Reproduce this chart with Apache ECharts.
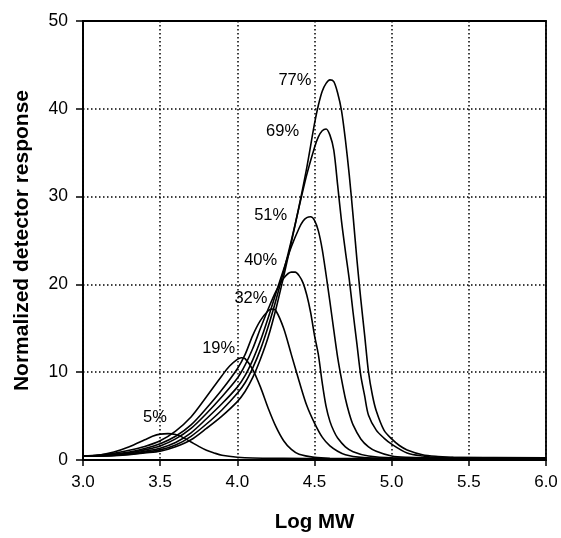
<!DOCTYPE html>
<html>
<head>
<meta charset="utf-8">
<script src="https://cdn.jsdelivr.net/npm/echarts@6/dist/echarts.min.js"></script>
<style>
html,body{margin:0;padding:0;background:#fff;}
#chart{width:561px;height:538px;}
</style>
</head>
<body>
<div id="chart"></div>
<script>
// Log MW vs normalized detector response, one array of [logMW, response] per conversion
const curve5 = [[3.0,0.45],[3.1,0.55],[3.2,0.9],[3.3,1.5],[3.4,2.3],[3.45,2.7],[3.5,2.95],[3.55,3.0],[3.6,2.9],[3.65,2.55],[3.7,2.05],[3.75,1.55],[3.8,1.1],[3.85,0.8],[3.9,0.55],[4.0,0.32],[4.1,0.22],[4.3,0.18],[4.6,0.15],[5.0,0.15],[6.0,0.15]];
const curve19 = [[3.0,0.45],[3.1,0.55],[3.2,0.75],[3.3,1.1],[3.4,1.55],[3.5,2.2],[3.6,3.3],[3.7,4.9],[3.8,7.2],[3.9,9.6],[3.95,10.7],[4.0,11.45],[4.025,11.65],[4.05,11.55],[4.1,10.3],[4.15,8.3],[4.2,5.9],[4.25,3.8],[4.3,2.2],[4.35,1.2],[4.4,0.65],[4.5,0.3],[4.6,0.2],[5.0,0.15],[6.0,0.15]];
const curve32 = [[3.0,0.45],[3.1,0.5],[3.2,0.65],[3.3,0.9],[3.4,1.3],[3.5,1.85],[3.6,2.7],[3.7,4.0],[3.8,5.9],[3.9,8.0],[4.0,10.4],[4.05,12.0],[4.1,14.2],[4.15,15.9],[4.2,17.0],[4.225,17.2],[4.25,17.0],[4.3,15.0],[4.35,12.0],[4.4,9.0],[4.45,6.2],[4.5,4.2],[4.55,2.6],[4.6,1.6],[4.65,1.0],[4.7,0.6],[4.8,0.3],[5.0,0.2],[6.0,0.2]];
const curve40 = [[3.0,0.45],[3.1,0.5],[3.2,0.6],[3.3,0.8],[3.4,1.15],[3.5,1.6],[3.6,2.4],[3.7,3.6],[3.8,5.3],[3.9,7.2],[4.0,9.3],[4.05,10.8],[4.1,12.7],[4.15,15.0],[4.2,17.2],[4.25,19.2],[4.3,20.7],[4.35,21.4],[4.375,21.4],[4.4,21.0],[4.425,20.2],[4.45,18.8],[4.475,16.8],[4.5,14.2],[4.525,12.0],[4.55,8.8],[4.575,6.1],[4.6,4.4],[4.625,3.3],[4.65,2.5],[4.7,1.5],[4.75,0.95],[4.85,0.45],[5.0,0.25],[6.0,0.2]];
const curve51 = [[3.0,0.45],[3.1,0.48],[3.2,0.55],[3.3,0.72],[3.4,1.0],[3.5,1.35],[3.6,2.0],[3.7,3.1],[3.8,4.7],[3.9,6.4],[4.0,8.3],[4.05,9.6],[4.1,11.4],[4.15,13.6],[4.2,16.2],[4.25,19.0],[4.3,21.7],[4.35,24.3],[4.4,26.4],[4.425,27.2],[4.45,27.6],[4.475,27.7],[4.5,27.3],[4.525,26.1],[4.55,24.0],[4.575,21.1],[4.6,18.0],[4.625,14.8],[4.65,11.7],[4.675,9.2],[4.7,7.0],[4.725,5.3],[4.75,4.0],[4.8,2.4],[4.85,1.5],[4.9,1.0],[5.0,0.45],[5.1,0.3],[5.3,0.22],[6.0,0.2]];
const curve69 = [[3.0,0.45],[3.1,0.47],[3.2,0.52],[3.3,0.65],[3.4,0.9],[3.5,1.15],[3.6,1.7],[3.7,2.7],[3.8,4.1],[3.9,5.7],[4.0,7.6],[4.05,8.8],[4.1,10.5],[4.15,12.6],[4.2,15.2],[4.25,18.2],[4.3,21.5],[4.35,25.0],[4.4,28.8],[4.45,32.5],[4.5,35.6],[4.525,36.8],[4.55,37.5],[4.575,37.7],[4.6,37.0],[4.625,35.3],[4.65,31.3],[4.675,27.2],[4.7,23.8],[4.725,20.6],[4.75,16.8],[4.775,13.2],[4.8,9.6],[4.825,7.3],[4.85,5.1],[4.9,3.4],[4.95,2.5],[5.0,1.8],[5.1,0.8],[5.2,0.45],[5.3,0.3],[6.0,0.25]];
const curve77 = [[3.0,0.45],[3.1,0.46],[3.2,0.5],[3.3,0.6],[3.4,0.8],[3.5,1.0],[3.6,1.5],[3.7,2.3],[3.8,3.6],[3.9,5.0],[4.0,6.65],[4.05,7.8],[4.1,9.4],[4.15,11.5],[4.2,14.0],[4.25,17.2],[4.3,20.9],[4.35,24.8],[4.4,28.9],[4.45,33.3],[4.5,38.3],[4.525,40.4],[4.55,42.0],[4.575,42.9],[4.6,43.3],[4.625,43.1],[4.65,41.8],[4.675,39.8],[4.7,36.5],[4.725,32.5],[4.75,27.8],[4.775,22.8],[4.8,18.3],[4.825,14.2],[4.85,10.0],[4.875,7.4],[4.9,5.6],[4.95,3.4],[5.0,2.4],[5.05,1.65],[5.1,1.15],[5.2,0.6],[5.3,0.4],[5.4,0.3],[6.0,0.25]];

const curves = [curve5, curve19, curve32, curve40, curve51, curve69, curve77];
const curveNames = ['5%', '19%', '32%', '40%', '51%', '69%', '77%'];
// label anchor points (in data units)
const labelMW = [3.466, 3.879, 4.088, 4.151, 4.216, 4.293, 4.373];
const labelResp = [4.85, 12.7, 18.4, 22.7, 27.8, 37.4, 43.2];

const xTicks = [3.0, 3.5, 4.0, 4.5, 5.0, 5.5, 6.0];
const yTicks = [0, 10, 20, 30, 40, 50];

const FONT = '"Liberation Sans", Arial, Helvetica, sans-serif';
const chart = echarts.init(document.getElementById('chart'), null, {renderer: 'canvas'});

const series = curves.map((c, i) => ({
  name: curveNames[i],
  type: 'line',
  data: c,
  smooth: 0.3,
  showSymbol: false,
  symbol: 'none',
  lineStyle: {color: '#000', width: 1.6},
  silent: true,
  z: 3
}));

series.push({
  type: 'scatter',
  symbolSize: 0,
  silent: true,
  itemStyle: {opacity: 1, color: '#000'},
  data: curveNames.map((n, i) => ({value: [labelMW[i], labelResp[i]], name: n})),
  label: {
    show: true,
    position: 'inside',
    formatter: p => p.name,
    color: '#000',
    opacity: 1,
    textBorderWidth: 0,
    fontFamily: FONT,
    fontSize: 16.5
  },
  z: 4
});

const gridLine = {show: true, lineStyle: {color: '#000', width: 1.5, type: [1.5, 2.5]}};

chart.setOption({
  animation: false,
  backgroundColor: '#fff',
  grid: {left: 83, right: 15, top: 21, bottom: 74, show: true, borderColor: '#000', borderWidth: 1.8, backgroundColor: 'transparent'},
  xAxis: {
    type: 'value', min: xTicks[0], max: xTicks[xTicks.length - 1], interval: 0.5,
    axisLine: {show: true, onZero: false, lineStyle: {color: '#000', width: 1.8}},
    axisTick: {show: true, inside: false, length: 6, lineStyle: {color: '#000', width: 1.5}},
    axisLabel: {margin: 14, color: '#000', fontFamily: FONT, fontSize: 17, formatter: v => v.toFixed(1)},
    splitLine: gridLine,
    name: 'Log MW', nameLocation: 'middle', nameGap: 52,
    nameTextStyle: {color: '#000', fontFamily: FONT, fontSize: 20.5, fontWeight: 'bold'}
  },
  yAxis: {
    type: 'value', min: yTicks[0], max: yTicks[yTicks.length - 1], interval: 10,
    axisLine: {show: true, lineStyle: {color: '#000', width: 1.8}},
    axisTick: {show: true, inside: false, length: 7, lineStyle: {color: '#000', width: 1.5}},
    axisLabel: {margin: 15, color: '#000', fontFamily: FONT, fontSize: 17.5},
    splitLine: gridLine,
    name: 'Normalized detector response', nameLocation: 'middle', nameGap: 50, nameRotate: 90,
    nameTextStyle: {color: '#000', fontFamily: FONT, fontSize: 21, fontWeight: 'bold'}
  },
  series: series
});
</script>
</body>
</html>
